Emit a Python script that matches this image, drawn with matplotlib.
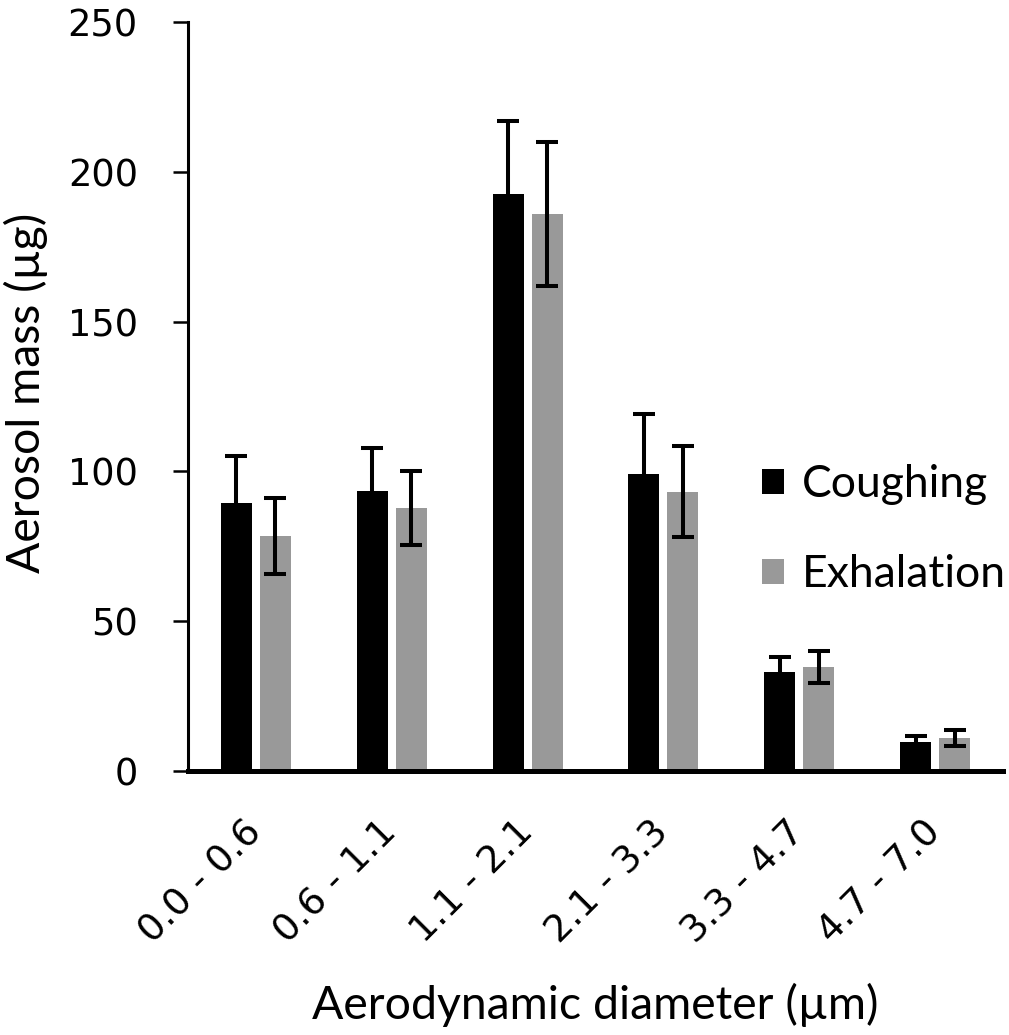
import matplotlib
matplotlib.use("Agg")
import matplotlib.pyplot as plt
import numpy as np

categories = ["0.0 - 0.6", "0.6 - 1.1", "1.1 - 2.1", "2.1 - 3.3", "3.3 - 4.7", "4.7 - 7.0"]
coughing = [89.4, 93.6, 192.5, 99.0, 33.2, 9.7]
coughing_err = [15.8, 14.1, 24.6, 20.0, 4.8, 2.0]
exhalation = [78.5, 87.7, 186.0, 93.2, 34.8, 10.9]
exhalation_err = [12.7, 12.3, 24.0, 15.2, 5.3, 2.7]
yticks = [0, 50, 100, 150, 200, 250]

label_font = "Lato"
tick_font = "DejaVu Sans"

fig = plt.figure(figsize=(10.09, 10.35), dpi=100)
ax = fig.add_axes([188/1009, 1 - 771/1035, (1003-188)/1009, (771-22)/1035])

x = np.arange(len(categories))
w = 0.228
off = 0.1436
err_kw = dict(ecolor="black", elinewidth=2.9, capsize=7.6, capthick=2.9)
b1 = ax.bar(x - off, coughing, w, yerr=coughing_err, color="black", label="Coughing",
            error_kw=err_kw, zorder=2)
b2 = ax.bar(x + off, exhalation, w, yerr=exhalation_err, color="#999999", label="Exhalation",
            error_kw=err_kw, zorder=2)

ax.set_xlim(-0.5, 5.5)
ax.set_ylim(0, 250)
ax.set_yticks(yticks)
ax.set_yticklabels([str(v) for v in yticks], fontfamily=tick_font, fontsize=26.5)
ax.set_xticks(x)
ax.set_xticklabels(categories, rotation=45, ha="right", va="center", rotation_mode="anchor",
                   fontfamily=tick_font, fontsize=27)
ax.tick_params(axis="x", length=0, pad=40)
ax.tick_params(axis="y", length=11, width=1.8, pad=25, direction="out")

for s in ["top", "right"]:
    ax.spines[s].set_visible(False)
ax.spines["left"].set_linewidth(2.2)
ax.spines["bottom"].set_linewidth(3.6)
ax.spines["bottom"].set_zorder(3)

ax.set_xlabel("Aerodynamic diameter (µm)", fontfamily=label_font, fontsize=33.4)
ax.xaxis.set_label_coords(0.5, -0.283)
ax.set_ylabel("Aerosol mass (µg)", fontfamily=label_font, fontsize=33.4)
ax.yaxis.set_label_coords(-0.172, 0.505)

leg = ax.legend(handles=[b1, b2], loc="center left", bbox_to_anchor=(0.704, 0.3224),
                frameon=False, prop={"family": label_font, "size": 32},
                handlelength=0.5, handleheight=0.5, handletextpad=0.4,
                labelspacing=1.1, borderpad=0, borderaxespad=0)

fig.savefig("out.png", dpi=100, facecolor="white")
